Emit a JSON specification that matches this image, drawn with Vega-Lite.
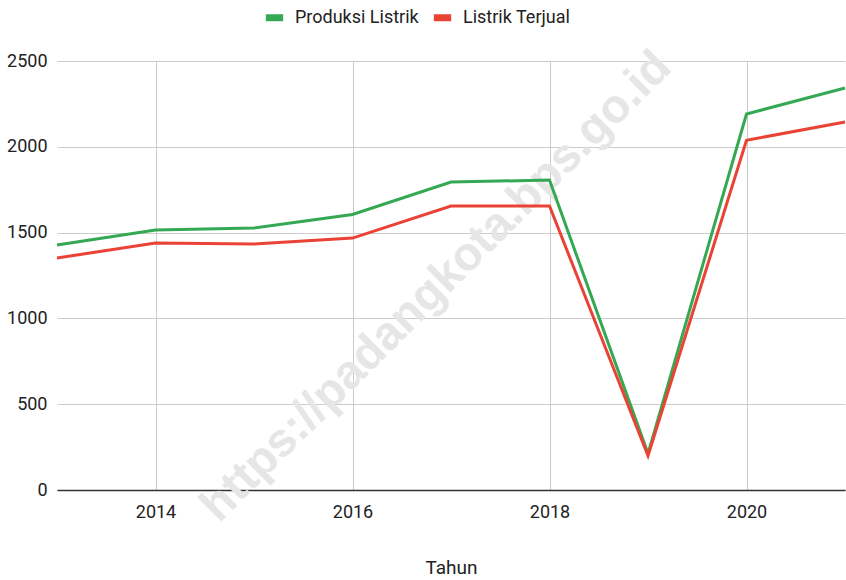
{
  "$schema": "https://vega.github.io/schema/vega-lite/v6.json",
  "width": 788,
  "height": 429,
  "autosize": {"type": "none"},
  "padding": {"left": 57, "top": 61, "right": 1, "bottom": 90},
  "background": "white",
  "datasets": {
    "series": [
      {"Tahun": 2013, "Seri": "Produksi Listrik", "Nilai": 1428},
      {"Tahun": 2014, "Seri": "Produksi Listrik", "Nilai": 1515},
      {"Tahun": 2015, "Seri": "Produksi Listrik", "Nilai": 1527},
      {"Tahun": 2016, "Seri": "Produksi Listrik", "Nilai": 1606},
      {"Tahun": 2017, "Seri": "Produksi Listrik", "Nilai": 1795},
      {"Tahun": 2018, "Seri": "Produksi Listrik", "Nilai": 1806},
      {"Tahun": 2019, "Seri": "Produksi Listrik", "Nilai": 212},
      {"Tahun": 2020, "Seri": "Produksi Listrik", "Nilai": 2191},
      {"Tahun": 2021, "Seri": "Produksi Listrik", "Nilai": 2343},
      {"Tahun": 2013, "Seri": "Listrik Terjual", "Nilai": 1352},
      {"Tahun": 2014, "Seri": "Listrik Terjual", "Nilai": 1439},
      {"Tahun": 2015, "Seri": "Listrik Terjual", "Nilai": 1434},
      {"Tahun": 2016, "Seri": "Listrik Terjual", "Nilai": 1468},
      {"Tahun": 2017, "Seri": "Listrik Terjual", "Nilai": 1655},
      {"Tahun": 2018, "Seri": "Listrik Terjual", "Nilai": 1655},
      {"Tahun": 2019, "Seri": "Listrik Terjual", "Nilai": 200},
      {"Tahun": 2020, "Seri": "Listrik Terjual", "Nilai": 2038},
      {"Tahun": 2021, "Seri": "Listrik Terjual", "Nilai": 2145}
    ],
    "watermark": [
      {"Tahun": 2016.85, "Nilai": 1185, "teks": "https://padangkota.bps.go.id"}
    ]
  },
  "layer": [
    {
      "data": {"name": "watermark"},
      "mark": {"type": "text", "angle": 315, "font": "Liberation Sans", "fontWeight": "bold", "fontSize": 47, "color": "#e6e6e6", "align": "center", "baseline": "middle"},
      "encoding": {
        "x": {"field": "Tahun", "type": "quantitative", "scale": {"domain": [2013, 2021]}},
        "y": {"field": "Nilai", "type": "quantitative", "scale": {"domain": [0, 2500]}},
        "text": {"field": "teks"}
      }
    },
    {
      "data": {"name": "series"},
      "mark": {"type": "line", "strokeWidth": 3, "strokeJoin": "miter"},
      "encoding": {
        "x": {
          "field": "Tahun", "type": "quantitative",
          "scale": {"domain": [2013, 2021], "nice": false, "zero": false},
          "axis": {
            "title": "Tahun", "values": [2014, 2016, 2018, 2020], "format": "d",
            "grid": true, "gridColor": "#cccccc", "domain": true, "domainColor": "#333333", "domainWidth": 1.5,
            "ticks": false, "labelPadding": 13, "labelFont": "Roboto", "labelFontSize": 18, "labelColor": "#222222",
            "titleFont": "Roboto", "titleFontSize": 19, "titleFontWeight": "normal", "titleColor": "#222222", "titlePadding": 37
          }
        },
        "y": {
          "field": "Nilai", "type": "quantitative",
          "scale": {"domain": [0, 2500], "nice": false},
          "axis": {
            "title": null, "values": [0, 500, 1000, 1500, 2000, 2500], "format": "d",
            "grid": true, "gridColor": "#cccccc", "domain": false, "ticks": false,
            "labelPadding": 10, "labelFont": "Roboto", "labelFontSize": 18, "labelColor": "#222222"
          }
        },
        "color": {
          "field": "Seri", "type": "nominal",
          "scale": {"domain": ["Produksi Listrik", "Listrik Terjual"], "range": ["#34A853", "#EA4335"]},
          "legend": {
            "title": null, "orient": "none", "direction": "horizontal", "legendX": 205, "legendY": -56,
            "symbolType": "stroke", "symbolSize": 300, "symbolStrokeWidth": 7,
            "labelFont": "Roboto", "labelFontSize": 18, "labelColor": "#222222", "columnPadding": 0, "labelOffset": 8
          }
        }
      }
    }
  ],
  "config": {"view": {"stroke": null}}
}
